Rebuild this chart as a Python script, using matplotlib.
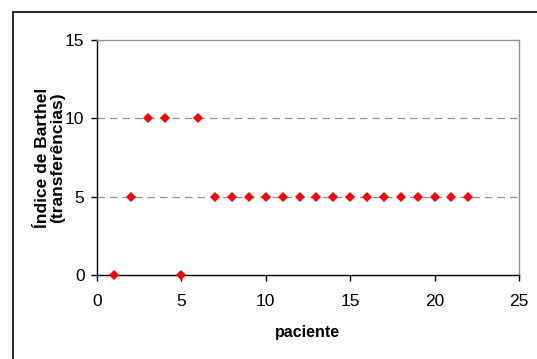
import matplotlib
matplotlib.use("Agg")
import matplotlib.pyplot as plt
from matplotlib.patches import Rectangle

paciente = list(range(1, 23))
indice = [0, 5, 10, 10, 0, 10, 5, 5, 5, 5, 5, 5, 5, 5, 5, 5, 5, 5, 5, 5, 5, 5]
x_ticks = [0, 5, 10, 15, 20, 25]
y_ticks = [0, 5, 10, 15]

plt.rcParams['font.family'] = ['Liberation Sans', 'DejaVu Sans']

W, H = 537, 359
fig = plt.figure(figsize=(W / 100, H / 100), dpi=100)

# outer chart frame
fig.patches.append(Rectangle((13 / W, -0.1), 1.2, (H - 12) / H + 0.1,
                             transform=fig.transFigure, fill=False,
                             edgecolor='black', linewidth=1.2))

ax = fig.add_axes([97 / W, (H - 275) / H, (519 - 97) / W, (275 - 40) / H])
ax.set_xlim(0, 25)
ax.set_ylim(0, 15)
ax.set_xticks(x_ticks)
ax.set_yticks(y_ticks)

for y in [5, 10]:
    ax.axhline(y, color='#909090', linestyle=(0, (6, 4)), linewidth=0.9, zorder=1)

ax.spines['top'].set_color('#909090')
ax.spines['right'].set_color('#909090')
ax.spines['left'].set_color('black')
ax.spines['bottom'].set_color('black')
for s in ax.spines.values():
    s.set_linewidth(1.0)

ax.tick_params(direction='out', length=4, width=1, labelsize=12.5)
ax.tick_params(axis='y', pad=5)
ax.tick_params(axis='x', pad=10)

ax.plot(paciente, indice, linestyle='none', marker='D', markersize=5.5,
        color='#ff0000', markeredgewidth=0, zorder=3, clip_on=False)

ax.set_xlabel('paciente', fontsize=11.5, fontweight='bold')
ax.xaxis.set_label_coords(0.5, (275 - 325) / (275 - 40), transform=ax.transAxes)
ax.set_ylabel('Índice de Barthel\n(transferências)', fontsize=12.5,
              fontweight='bold', linespacing=1.0)
ax.yaxis.set_label_coords((50 - 97) / (519 - 97), 0.5, transform=ax.transAxes)
ax.yaxis.label.set_verticalalignment('center')

fig.savefig('out.png', dpi=100)
